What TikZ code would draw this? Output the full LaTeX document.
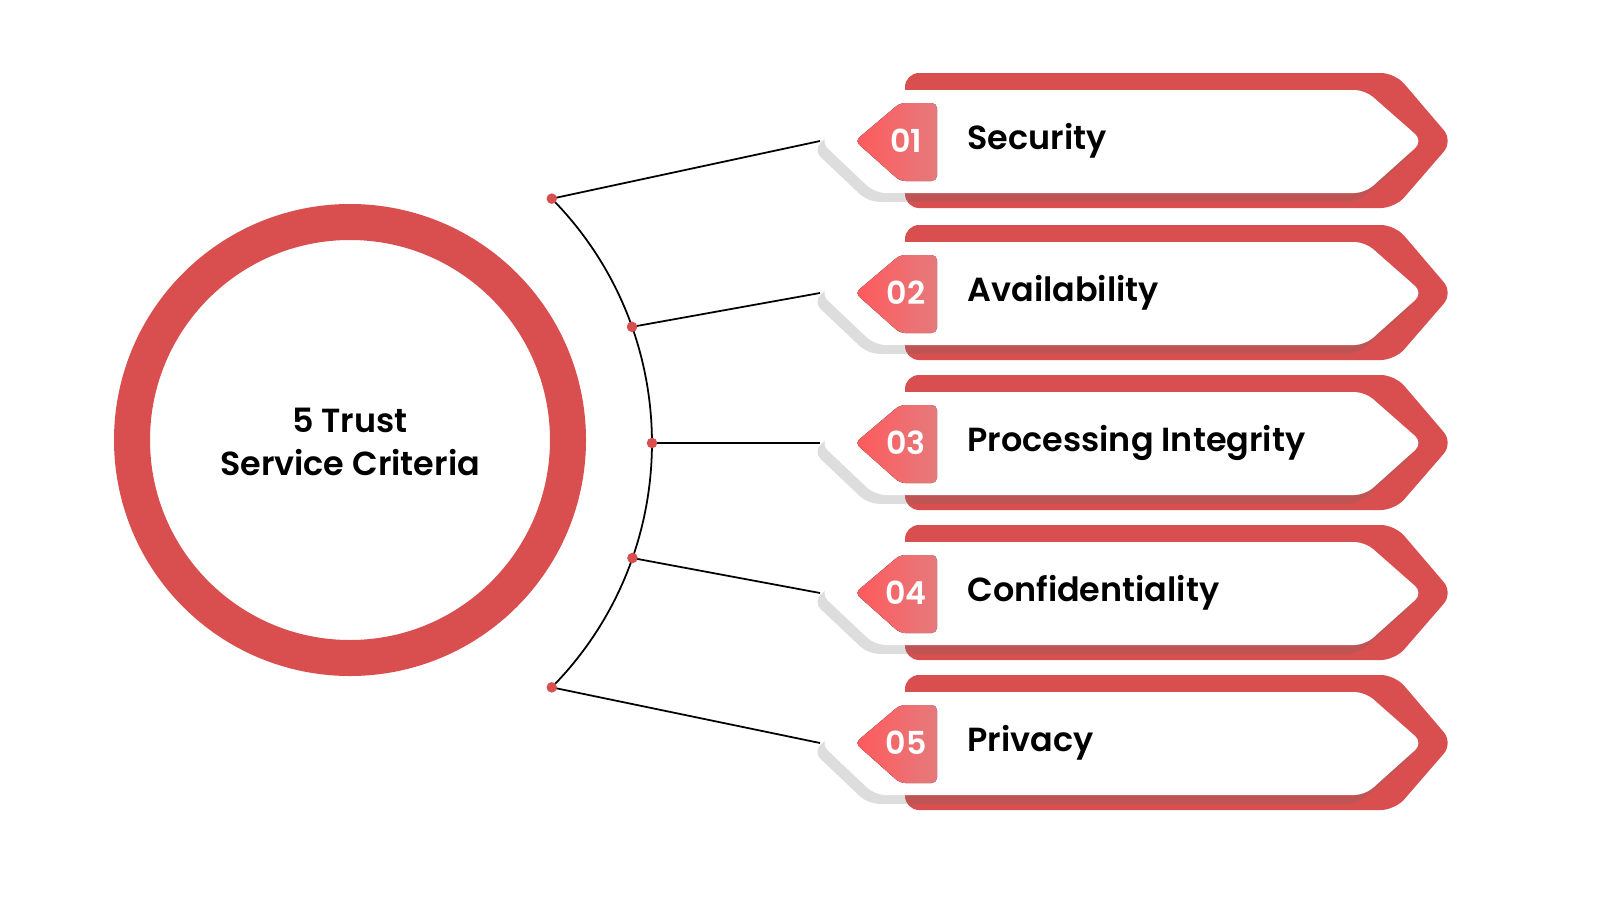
\documentclass[tikz,border=0pt]{standalone}
\usepackage{fontspec}
\setmainfont{Poppins}[BoldFont={Poppins SemiBold}]
\usetikzlibrary{shadows,calc}
\definecolor{ringred}{HTML}{D94F50}
\definecolor{badgeA}{HTML}{FF5A5C}
\definecolor{badgeB}{HTML}{E57A7C}
\tikzset{
  banner/.style={fill=ringred,rounded corners=4pt},
  plate/.style={fill=white,rounded corners=3pt,drop shadow={shadow xshift=-2pt,shadow yshift=-2.5pt,opacity=0.22,fill=black!60}},
  badge/.style={left color=badgeA,right color=badgeB,rounded corners=1.5pt},
  numtext/.style={text=white,font=\fontsize{9}{11}\selectfont\bfseries},
  labeltext/.style={anchor=west,text=black,font=\fontsize{9.5}{12}\selectfont\bfseries},
  dot/.style={circle,fill=ringred,inner sep=0pt,minimum size=3pt}
}
\begin{document}
\begin{tikzpicture}[x=0.01cm,y=-0.01cm]
\useasboundingbox (0,0) rectangle (1600,900);
%ring
\fill[ringred,even odd rule] (350,440) circle (236) (350,440) circle (200);
\node[align=center,font=\fontsize{9.5}{12}\selectfont\bfseries] (title) at (350,442) {5 Trust\\Service Criteria};
%arc
\draw[black,line width=0.5pt] (304,443) ++(-44.6:348) arc (-44.6:44.6:348);
\foreach \i/\y/\a/\lab in {1/141/-44.6/Security,2/293/-19.5/Availability,3/443/0/Processing Integrity,4/593/19.3/Confidentiality,5/743/44.6/Privacy}{
  %banner
  \fill[banner] (905,\y-68) -- (1395,\y-68) -- (1453,\y) -- (1395,\y+67) -- (905,\y+67) -- cycle;
  \fill[plate] (820,\y) -- (875,\y-51) -- (1365,\y-51) -- (1423,\y) -- (1365,\y+52) -- (875,\y+52) -- cycle;
  \fill[badge] (855,\y) -- (900,\y-38) -- (937,\y-38) -- (937,\y+40) -- (900,\y+40) -- cycle;
  \node[numtext] (n\i) at (906,\y) {0\i};
  \node[labeltext] (l\i) at (955,\y) {\lab};
  \coordinate (tip\i) at (820,\y);
  \path (304,443) ++(\a:348) coordinate (p\i);
  \draw[black,line width=0.5pt] (p\i) -- (tip\i);
  \node[dot] at (p\i) {};
}
\end{tikzpicture}
\end{document}
